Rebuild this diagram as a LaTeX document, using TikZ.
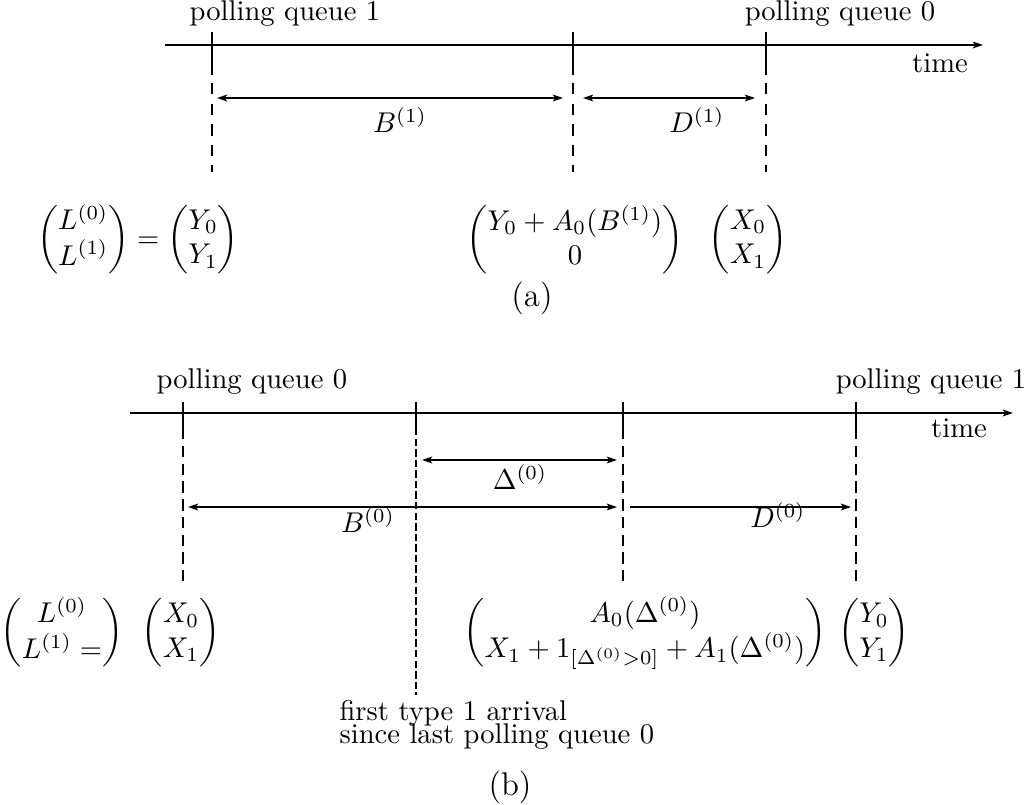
\documentclass[tikz,border=0pt]{standalone}
\usepackage{amsmath}
\usepackage{fontspec}
\usetikzlibrary{arrows.meta}
\begin{document}
\begin{tikzpicture}[x=0.35pt,y=-0.35pt,
  tip/.tip={Stealth[length=3.6pt,width=2.4pt,inset=0.9pt]},
  axisline/.style={line width=0.6pt,-tip},
  solidtick/.style={line width=0.6pt},
  dashA/.style={line width=0.6pt,dash pattern=on 4pt off 3.2pt},
  dashB/.style={line width=0.6pt,dash pattern=on 4pt off 2.2pt},
  dashfine/.style={line width=0.6pt,dash pattern=on 2.6pt off 1.1pt},
  spanboth/.style={line width=0.5pt,tip-tip},
  spanright/.style={line width=0.5pt,-tip},
  lab/.style={inner sep=0pt},
  captext/.style={inner sep=0pt,font={\rmfamily\fontsize{11.5}{13}\selectfont}},
]
\useasboundingbox (0,0) rectangle (1029,805);

% ---------------- panel (a) ----------------
\coordinate (aS) at (165,45);
\coordinate (aE) at (983,45);
\draw[axisline] (aS) -- (aE);
\node[lab] (pqA1) at (285,14) {polling queue 1};
\node[lab] (pqA0) at (840,14) {polling queue 0};
\node[lab] (timeA) at (940,63) {time};

\foreach \n/\x in {1/212,2/573,3/766}{
  \coordinate (aT\n) at (\x,32);
  \coordinate (aM\n) at (\x,75);
  \coordinate (aD\n) at (\x,83);
  \coordinate (aB\n) at (\x,172);
  \draw[solidtick] (aT\n) -- (aM\n);
  \draw[dashA] (aD\n) -- (aB\n);
}
\coordinate (bA1) at (217,98); \coordinate (bA2) at (563,98);
\coordinate (dA1) at (583,98); \coordinate (dA2) at (755,98);
\draw[spanboth] (bA1) -- (bA2);
\draw[spanboth] (dA1) -- (dA2);
\node[lab] (labBA) at (400,120) {$B^{(1)}$};
\node[lab] (labDA) at (697,120) {$D^{(1)}$};

\node[lab] (mA1) at (138,240) {$\begin{pmatrix}L^{(0)}\\L^{(1)}\end{pmatrix}=\begin{pmatrix}Y_0\\Y_1\end{pmatrix}$};
\node[lab] (mA2) at (575,240) {$\begin{pmatrix}Y_0+A_0(B^{(1)})\\0\end{pmatrix}$};
\node[lab] (mA3) at (748,240) {$\begin{pmatrix}X_0\\X_1\end{pmatrix}$};
\node[captext] (capA) at (532,298) {(a)};

% ---------------- panel (b) ----------------
\coordinate (bS) at (130,413);
\coordinate (bE) at (1013,413);
\draw[axisline] (bS) -- (bE);
\node[lab] (pqB0) at (252,382) {polling queue 0};
\node[lab] (pqB1) at (931,382) {polling queue 1};
\node[lab] (timeB) at (959,428) {time};

\foreach \n/\x in {1/183,3/623,4/856}{
  \coordinate (bT\n) at (\x,402);
  \coordinate (bM\n) at (\x,439);
  \coordinate (bD\n) at (\x,446);
  \coordinate (bB\n) at (\x,586);
  \draw[solidtick] (bT\n) -- (bM\n);
  \draw[dashB] (bD\n) -- (bB\n);
}
\coordinate (bT2) at (416,402);
\coordinate (bM2) at (416,428);
\coordinate (bB2) at (416,695);
\draw[solidtick] (bT2) -- (bM2);
\draw[dashfine] (bM2) -- (bB2);

\coordinate (del1) at (422,460); \coordinate (del2) at (617,460);
\coordinate (bb1) at (188,507); \coordinate (bb2) at (617,507);
\coordinate (dd1) at (630,507); \coordinate (dd2) at (851,507);
\draw[spanboth] (del1) -- (del2);
\draw[spanboth] (bb1) -- (bb2);
\draw[spanright] (dd1) -- (dd2);
\node[lab] (labDel) at (520,477) {$\Delta^{(0)}$};
\node[lab] (labBB) at (368,520) {$B^{(0)}$};
\node[lab] (labDB) at (778,515) {$D^{(0)}$};

\node[lab] (mB1) at (62,633) {$\begin{pmatrix}L^{(0)}\\L^{(1)}=\end{pmatrix}$};
\node[lab] (mB2) at (181,633) {$\begin{pmatrix}X_0\\X_1\end{pmatrix}$};
\node[lab] (mB3) at (645,633) {$\begin{pmatrix}A_0(\Delta^{(0)})\\X_1+1_{[\Delta^{(0)}>0]}+A_1(\Delta^{(0)})\end{pmatrix}$};
\node[lab] (mB4) at (874,633) {$\begin{pmatrix}Y_0\\Y_1\end{pmatrix}$};

\node[lab,anchor=base west] (note1) at (339,720) {first type 1 arrival};
\node[lab,anchor=base west] (note2) at (339,743) {since last polling queue 0};
\node[captext] (capB) at (510,787) {(b)};
\end{tikzpicture}
\end{document}
